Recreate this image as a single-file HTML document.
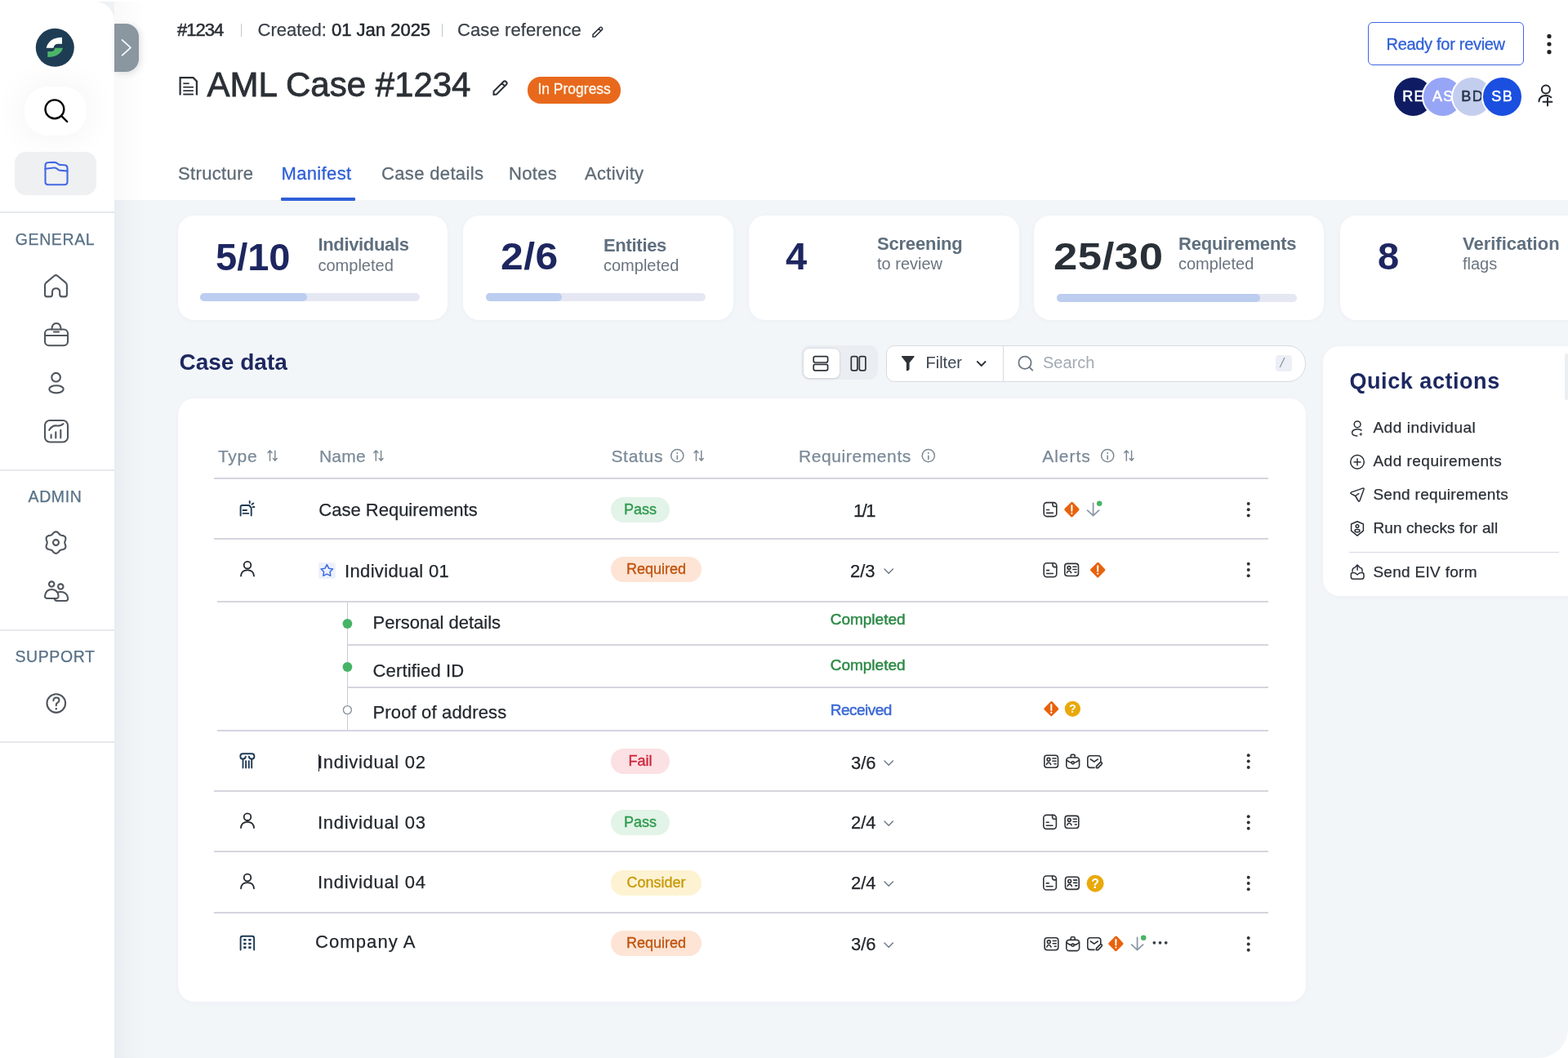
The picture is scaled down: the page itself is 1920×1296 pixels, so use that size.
<!DOCTYPE html>
<html><head><meta charset="utf-8"><title>AML Case #1234</title>
<style>
*{box-sizing:border-box;margin:0;padding:0}
html,body{width:1920px;height:1296px;overflow:hidden;background:#fff}
body{position:relative;font-family:"Liberation Sans",Arial,sans-serif;color:#2b3036}
.a{position:absolute}
.t{position:absolute;line-height:1;white-space:nowrap}
svg{display:block;overflow:visible}
#main{left:140px;top:2px;width:1780px;height:1294px;background:linear-gradient(90deg,#e8edf1 0,#eef2f5 18px,#f3f6f9 40px);border-radius:0 0 36px 0}
#hdr{left:140px;top:2px;width:1780px;height:243px;background:#fff}
#side{left:0;top:2px;width:140px;height:1294px;background:#fff;border-radius:0 24px 0 0}
.sep{position:absolute;left:0;width:140px;height:2px;background:#e6e8eb}
.sec{position:absolute;font-size:19.5px;letter-spacing:0.6px;color:#587086;-webkit-text-stroke:.25px #587086;line-height:1;left:0;width:137px;text-align:center}
.card{position:absolute;background:#fff;border-radius:20px;box-shadow:0 1px 6px rgba(30,50,90,.04)}
.big{font-weight:700;font-size:47px;color:#1e2660}
.lbl{font-weight:700;font-size:22px;color:#5f6f7e}
.sub{font-size:20px;color:#6a7480}
.bar{position:absolute;height:10px;border-radius:5px;background:#e5e7f3}
.bar i{position:absolute;left:0;top:0;height:10px;border-radius:5px;background:#bccdf0}
.tab{font-size:22px;color:#5f6b76;letter-spacing:.35px;-webkit-text-stroke:.3px currentColor}
.th{font-size:21px;color:#7a8a98}
.hl{position:absolute;height:2px;background:#d5d5df}
.nm{font-size:21px;color:#23282e}
.pill{position:absolute;height:31px;border-radius:16px;font-size:18px;line-height:31px;text-align:center;-webkit-text-stroke:.35px currentColor}
.req{font-size:22px;color:#1f2328}
.qa{font-size:19px;color:#2a2f36;-webkit-text-stroke:.25px currentColor;letter-spacing:.3px}
.av{-webkit-text-stroke:.5px currentColor;width:51px;height:51px;border-radius:50%;border:2px solid #fff;font-size:18px;letter-spacing:1.4px;text-align:center;line-height:47px;text-indent:1.4px}
</style></head><body>
<div class="a" id="main"></div>
<div class="a" id="hdr"></div>
<div class="a" style="left:140px;top:2px;width:40px;height:243px;background:linear-gradient(90deg,rgba(0,0,0,.022),rgba(0,0,0,0))"></div>
<div class="a" style="left:110px;top:2px;width:30px;height:40px;background:#eef2f5"></div>
<div class="a" id="side"></div>

<div class="a" style="left:30px;top:106px;width:76px;height:60px;border-radius:28px;background:#fff;box-shadow:0 0 40px 6px rgba(0,0,0,.045)"></div>
<div class="a" style="left:18px;top:186px;width:100px;height:53px;border-radius:14px;background:#eff0f2"></div>
<div class="sep" style="top:259px"></div>
<div class="sep" style="top:575px"></div>
<div class="sep" style="top:771px"></div>
<div class="sep" style="top:908px"></div>
<div class="sec" style="top:283.5px;left:-1px">GENERAL</div>
<div class="sec" style="top:599px;left:-1px">ADMIN</div>
<div class="sec" style="top:795px;left:-1px">SUPPORT</div>
<div class="a" style="left:140px;top:29px;width:30px;height:59px;background:#8a96a0;border-radius:0 16px 16px 0;box-shadow:2px 2px 8px rgba(0,0,0,.12)"></div>
<!--SIDEBAR-END-->

<div class="t" style="left:217px;top:26.4px;font-size:22px;color:#2b3036;letter-spacing:-1px;-webkit-text-stroke:.5px #2b3036">#1234</div>
<div class="a" style="left:294.5px;top:29px;width:1.6px;height:16px;background:#c3c7cf"></div>
<div class="t" style="left:315.5px;top:26.4px;font-size:22px;color:#3a4048;-webkit-text-stroke:.25px #3a4048">Created: <span style="color:#23282e;-webkit-text-stroke:.5px #23282e">01 Jan 2025</span></div>
<div class="a" style="left:540.5px;top:29px;width:1.6px;height:16px;background:#c3c7cf"></div>
<div class="t" style="left:560px;top:26.4px;font-size:22px;color:#3a4048;-webkit-text-stroke:.25px #3a4048;letter-spacing:.1px">Case reference</div>
<div class="t" style="left:253.5px;top:82.6px;font-size:42px;color:#2b3036;-webkit-text-stroke:.8px #2b3036">AML Case #1234</div>
<div class="a" style="left:646px;top:94.4px;width:114px;height:32.3px;border-radius:16px;background:#e8691c"></div>
<div class="t" style="left:658.4px;top:100.6px;font-size:17.5px;color:#fff8ee;-webkit-text-stroke:.3px #fff8ee">In Progress</div>
<div class="t tab" style="left:218px;top:201.9px">Structure</div>
<div class="t tab" style="left:344.5px;top:201.9px;color:#2f5fd8">Manifest</div>
<div class="t tab" style="left:467px;top:201.9px">Case details</div>
<div class="t tab" style="left:623px;top:201.9px">Notes</div>
<div class="t tab" style="left:716px;top:201.9px">Activity</div>
<div class="a" style="left:344px;top:242px;width:90.5px;height:3.6px;background:#2f5fd8;border-radius:1px"></div>
<div class="a" style="left:1675px;top:27px;width:191px;height:52.5px;border:1.6px solid #3e66e0;border-radius:6px"></div>
<div class="t" style="left:1697.5px;top:43.6px;font-size:20px;color:#2f5fd8;letter-spacing:-.3px;-webkit-text-stroke:.3px #2f5fd8">Ready for review</div>
<div class="a" style="left:1815px;top:94.5px;width:48px;height:48px;border-radius:50%;background:#1b4fe0;border:2px solid #fff"></div>
<div class="a av" style="left:1704.9px;top:93px;background:#0f1c63;color:#fff">RE</div>
<div class="a av" style="left:1741.2px;top:93px;background:#97a5f6;color:#fff">AS</div>
<div class="a av" style="left:1777.0px;top:93px;background:#c3cdee;color:#26364a">BD</div>
<div class="a av" style="left:1813.5px;top:93px;background:#1b4fe0;color:#fff">SB</div>
<!--HDR-END-->

<div class="card" style="left:218px;top:264px;width:330px;height:128px"></div>
<div class="card" style="left:567px;top:264px;width:331px;height:128px"></div>
<div class="card" style="left:917px;top:264px;width:331px;height:128px"></div>
<div class="card" style="left:1266px;top:264px;width:355px;height:128px"></div>
<div class="card" style="left:1641px;top:264px;width:320px;height:128px"></div>
<div class="t big" style="left:264px;top:291.2px">5/10</div>
<div class="t lbl" style="left:389.5px;top:289px;letter-spacing:-.35px">Individuals</div>
<div class="t sub" style="left:389.5px;top:314.6px">completed</div>
<div class="bar" style="left:245px;top:359px;width:269px"><i style="width:131px"></i></div>
<div class="t big" style="left:612.5px;top:290.2px;letter-spacing:.5px;transform:scaleX(1.06);transform-origin:0 0">2/6</div>
<div class="t lbl" style="left:739px;top:290.2px;letter-spacing:-.3px">Entities</div>
<div class="t sub" style="left:739px;top:315.1px">completed</div>
<div class="bar" style="left:595px;top:359px;width:269px"><i style="width:93px"></i></div>
<div class="t big" style="left:962px;top:290.2px">4</div>
<div class="t lbl" style="left:1074px;top:287.8px;letter-spacing:-.2px">Screening</div>
<div class="t sub" style="left:1074px;top:313.4px">to review</div>
<div class="t big" style="left:1290px;top:290.2px;color:#2a3038;letter-spacing:.5px;transform:scaleX(1.12);transform-origin:0 0">25/30</div>
<div class="t lbl" style="left:1443px;top:287.8px;letter-spacing:-.2px">Requirements</div>
<div class="t sub" style="left:1443px;top:313.4px">completed</div>
<div class="bar" style="left:1294px;top:359.5px;width:294px"><i style="width:249px"></i></div>
<div class="t big" style="left:1687px;top:290.2px">8</div>
<div class="t lbl" style="left:1791px;top:287.8px">Verification</div>
<div class="t sub" style="left:1791px;top:313.4px">flags</div>
<!--CARDS-END-->

<div class="t" style="left:219.5px;top:430px;font-size:28px;font-weight:700;color:#1d2860">Case data</div>
<div class="a" style="left:981px;top:423px;width:94px;height:42px;border-radius:10px;background:#eaedf2"></div>
<div class="a" style="left:982.5px;top:425.5px;width:46px;height:38.5px;border-radius:8px;background:#fff;border:1px solid #d8dce2;box-shadow:0 1px 2px rgba(0,0,0,.08)"></div>
<div class="a" style="left:1084.5px;top:423px;width:514px;height:44.5px;border-radius:10px 22px 22px 10px;background:#fff;border:1.3px solid #d6dae0"></div>
<div class="a" style="left:1227.5px;top:423px;width:1.3px;height:44.5px;background:#d6dae0"></div>
<div class="t" style="left:1133.5px;top:434.4px;font-size:20px;color:#3a4450">Filter</div>
<div class="t" style="left:1277px;top:434.4px;font-size:20px;color:#a2aab4">Search</div>
<div class="a" style="left:1561.5px;top:434.7px;width:20.7px;height:20px;border-radius:4px;background:#eceff5"></div>
<div class="t" style="left:1567.5px;top:436px;font-size:17px;color:#8b95a1;font-style:italic">/</div>
<div class="card" style="left:218px;top:488px;width:1381px;height:739px"></div>
<div class="card" style="left:1620px;top:424px;width:320px;height:306px"></div>
<div class="t" style="left:1652.5px;top:453.5px;font-size:27px;font-weight:700;color:#1d2860;letter-spacing:.55px">Quick actions</div>
<div class="t qa" style="left:1681.4px;top:514.4px;letter-spacing:.55px">Add individual</div>
<div class="t qa" style="left:1681.4px;top:554.7px;letter-spacing:.5px">Add requirements</div>
<div class="t qa" style="left:1681.4px;top:596.4px">Send requirements</div>
<div class="t qa" style="left:1681.4px;top:636.7px;letter-spacing:.1px">Run checks for all</div>
<div class="a" style="left:1652px;top:675.5px;width:257px;height:1.6px;background:#d6d8e6"></div>
<div class="t qa" style="left:1681.4px;top:690.9px">Send EIV form</div>
<div class="a" style="left:1915.5px;top:433px;width:5px;height:57px;border-radius:3px;background:#eceef1;filter:blur(.6px)"></div>
<!--SEC-END-->
<!--TBL-H-->
<div class="t" style="left:267px;top:548.4px;font-size:21px;color:#7a8a98;-webkit-text-stroke:.25px #7a8a98;letter-spacing:.7px">Type</div>
<div class="t" style="left:391px;top:548.4px;font-size:21px;color:#7a8a98;-webkit-text-stroke:.25px #7a8a98;letter-spacing:.2px">Name</div>
<div class="t" style="left:748.4px;top:548.4px;font-size:21px;color:#7a8a98;-webkit-text-stroke:.25px #7a8a98;letter-spacing:.7px">Status</div>
<div class="t" style="left:978px;top:548.4px;font-size:21px;color:#7a8a98;-webkit-text-stroke:.25px #7a8a98;letter-spacing:.6px">Requirements</div>
<div class="t" style="left:1276.2px;top:548.4px;font-size:21px;color:#7a8a98;-webkit-text-stroke:.25px #7a8a98;letter-spacing:1px">Alerts</div>
<div class="hl" style="left:262px;top:585px;width:1291px"></div>
<div class="hl" style="left:262px;top:659px;width:1291px"></div>
<div class="hl" style="left:266px;top:736px;width:1287px"></div>
<div class="hl" style="left:425.5px;top:789px;width:1127.5px"></div>
<div class="hl" style="left:425.5px;top:841px;width:1127.5px"></div>
<div class="hl" style="left:266px;top:894px;width:1287px"></div>
<div class="hl" style="left:262px;top:968px;width:1291px"></div>
<div class="hl" style="left:262px;top:1042px;width:1291px"></div>
<div class="hl" style="left:262px;top:1117px;width:1291px"></div>
<div class="a" style="left:424.6px;top:737px;width:1.6px;height:158px;background:#c9ccd4"></div>
<div class="t" style="left:390.3px;top:614.4px;font-size:22px;color:#23282e;-webkit-text-stroke:.25px #23282e;letter-spacing:0px">Case Requirements</div>
<div class="t" style="left:422px;top:689.2px;font-size:22px;color:#23282e;-webkit-text-stroke:.25px #23282e;letter-spacing:.35px">Individual 01</div>
<div class="t" style="left:389px;top:922.7px;font-size:22px;color:#23282e;-webkit-text-stroke:.25px #23282e;letter-spacing:.7px">Individual 02</div>
<div class="t" style="left:389px;top:996.9px;font-size:22px;color:#23282e;-webkit-text-stroke:.25px #23282e;letter-spacing:.7px">Individual 03</div>
<div class="t" style="left:389px;top:1069.8px;font-size:22px;color:#23282e;-webkit-text-stroke:.25px #23282e;letter-spacing:.7px">Individual 04</div>
<div class="t" style="left:386px;top:1143.4px;font-size:22px;color:#23282e;-webkit-text-stroke:.25px #23282e;letter-spacing:1.1px">Company A</div>
<div class="a" style="left:389.6px;top:924px;width:1.6px;height:21px;background:#23282e"></div>
<div class="t" style="left:456.5px;top:752.4px;font-size:22px;color:#23282e;-webkit-text-stroke:.25px #23282e;letter-spacing:0px">Personal details</div>
<div class="t" style="left:456.5px;top:811.0px;font-size:22px;color:#23282e;-webkit-text-stroke:.25px #23282e;letter-spacing:.15px">Certified ID</div>
<div class="t" style="left:456.5px;top:861.8px;font-size:22px;color:#23282e;-webkit-text-stroke:.25px #23282e;letter-spacing:.15px">Proof of address</div>
<div class="t" style="left:1016.7px;top:749.4px;font-size:19px;color:#2e8a47;-webkit-text-stroke:.25px #2e8a47;-webkit-text-stroke:.5px #2e8a47">Completed</div>
<div class="t" style="left:1016.7px;top:805.3px;font-size:19px;color:#2e8a47;-webkit-text-stroke:.25px #2e8a47;-webkit-text-stroke:.5px #2e8a47">Completed</div>
<div class="t" style="left:1016.7px;top:859.5px;font-size:19px;color:#3b68d6;-webkit-text-stroke:.25px #3b68d6;letter-spacing:-.5px;-webkit-text-stroke:.5px #3b68d6">Received</div>
<div class="pill" style="left:748px;top:608.6px;width:72px;background:#e2f3e7;color:#2f9a4e">Pass</div>
<div class="pill" style="left:748px;top:682.3px;width:111px;background:#fde4d5;color:#c0530d">Required</div>
<div class="pill" style="left:748px;top:917.2px;width:72px;background:#fbe0e4;color:#d0263a">Fail</div>
<div class="pill" style="left:748px;top:991.6px;width:72px;background:#e2f3e7;color:#2f9a4e">Pass</div>
<div class="pill" style="left:748px;top:1066.0px;width:111px;background:#fdf3d2;color:#c89a0c">Consider</div>
<div class="pill" style="left:748px;top:1140.4px;width:111px;background:#fde4d5;color:#c0530d">Required</div>
<div class="t" style="left:1045px;top:614.9px;font-size:22px;color:#1f2328;-webkit-text-stroke:.25px #1f2328;letter-spacing:-1.5px">1/1</div>
<div class="t" style="left:1041px;top:688.8px;font-size:22px;color:#1f2328;-webkit-text-stroke:.25px #1f2328;">2/3</div>
<div class="t" style="left:1042px;top:923.9px;font-size:22px;color:#1f2328;-webkit-text-stroke:.25px #1f2328;">3/6</div>
<div class="t" style="left:1042px;top:997.0px;font-size:22px;color:#1f2328;-webkit-text-stroke:.25px #1f2328;">2/4</div>
<div class="t" style="left:1042px;top:1071.4px;font-size:22px;color:#1f2328;-webkit-text-stroke:.25px #1f2328;">2/4</div>
<div class="t" style="left:1042px;top:1146.4px;font-size:22px;color:#1f2328;-webkit-text-stroke:.25px #1f2328;">3/6</div>
<div class="a" style="left:389.6px;top:688.6px;width:21.4px;height:20.4px;border-radius:3px;background:#edf1fa"></div>
<!--TBL-H-END-->







<svg class="a" style="left:0;top:0" width="1920" height="1296" viewBox="0 0 1920 1296" fill="none" stroke-linecap="round" stroke-linejoin="round">
<!-- logo -->
<circle cx="67.3" cy="58.3" r="23.5" fill="#1e3d55"/>
<path d="M56.7,58.7 C58.5,51 65,45.8 76,45.8 L76,53.7 L70.5,53.7 C67.5,53.7 66,56 65.5,58.7 Z" fill="#fff"/>
<path d="M77,58.7 C75,65.5 69,70 58.3,70 L58.3,63 L63,63 C65.5,63 66.8,61 67.3,58.7 Z" fill="#4cb56a"/>
<!-- search -->
<g stroke="#000" stroke-width="2.4"><circle cx="66.9" cy="133.8" r="11.4"/><path d="M75.6,142.3 L82.2,149"/></g>
<!-- folder -->
<g stroke="#4169e1" stroke-width="2.1">
<path d="M55.5,203 Q55.5,199 59.5,199 L66,198.7 Q68,198.7 70,200 L72,201.5 Q73,202 75,202 L79.5,202.3 Q82.5,202.5 82.5,206 L82.5,222.5 Q82.5,226.2 79,226.2 L59,226.2 Q55.5,226.2 55.5,222.5 Z"/>
<path d="M55.5,206.8 L66,205.5 Q68,205.4 70,206.8 L72,208.3 Q73,208.9 75,208.9 L82.5,209.5"/>
</g>
<!-- toggle chevron -->
<path d="M149.5,48.8 L160,58.3 L149.5,67.8" stroke="#fff" stroke-width="1.6"/>
<g stroke="#50565e" stroke-width="2.1">
<!-- home -->
<path d="M57.6,363.4 Q55,363.4 55,360.8 L55,349.6 Q55,347.6 56.6,346.1 L66.3,338 Q68.4,336.4 70.5,338 L80.3,346.1 Q81.9,347.6 81.9,349.6 L81.9,360.8 Q81.9,363.4 79.3,363.4 L76,363.4 Q73.2,363.4 73.2,360.5 L73.2,357.8 Q73.2,353.2 68.6,353.2 Q64,353.2 64,357.8 L64,360.5 Q64,363.4 61.2,363.4 Z"/>
<!-- briefcase -->
<rect x="55" y="403.5" width="28" height="19.8" rx="5"/>
<path d="M55,411 L83,411"/>
<path d="M63.5,403.5 Q63.5,396 69,396 Q74.5,396 74.5,403.5"/>
<path d="M66,406.5 L72,406.5"/>
<!-- person -->
<circle cx="68.6" cy="462.2" r="5.3"/>
<ellipse cx="69" cy="476.8" rx="8.7" ry="4.6"/>
<!-- chart -->
<rect x="55" y="515" width="28" height="26.5" rx="6"/>
<path d="M60.2,526.8 Q64,520.5 70,521.5 Q74.5,522 77.5,519.2"/>
<path d="M62.6,532.5 L62.6,536.5 M68.3,529.3 L68.3,536.5 M74.3,526.8 L74.3,536.5"/>
<!-- settings -->
<path d="M68.50,651.35 L69.36,651.47 L70.18,651.83 L70.93,652.36 L71.61,653.01 L72.20,653.69 L72.75,654.33 L73.30,654.87 L73.88,655.29 L74.53,655.58 L75.27,655.78 L76.10,655.94 L76.99,656.11 L77.88,656.37 L78.72,656.76 L79.44,657.29 L79.97,657.98 L80.30,658.78 L80.40,659.67 L80.32,660.59 L80.09,661.49 L79.80,662.35 L79.52,663.15 L79.32,663.89 L79.25,664.60 L79.32,665.31 L79.52,666.05 L79.80,666.85 L80.09,667.71 L80.32,668.61 L80.40,669.53 L80.30,670.42 L79.97,671.23 L79.44,671.91 L78.72,672.44 L77.88,672.83 L76.99,673.09 L76.10,673.26 L75.27,673.42 L74.53,673.62 L73.88,673.91 L73.30,674.33 L72.75,674.87 L72.20,675.51 L71.61,676.19 L70.93,676.84 L70.18,677.37 L69.36,677.73 L68.50,677.85 L67.64,677.73 L66.82,677.37 L66.07,676.84 L65.39,676.19 L64.80,675.51 L64.25,674.87 L63.70,674.33 L63.12,673.91 L62.47,673.62 L61.73,673.42 L60.90,673.26 L60.01,673.09 L59.12,672.83 L58.28,672.44 L57.56,671.91 L57.03,671.23 L56.70,670.42 L56.60,669.53 L56.68,668.61 L56.91,667.71 L57.20,666.85 L57.48,666.05 L57.68,665.31 L57.75,664.60 L57.68,663.89 L57.48,663.15 L57.20,662.35 L56.91,661.49 L56.68,660.59 L56.60,659.67 L56.70,658.78 L57.03,657.98 L57.56,657.29 L58.28,656.76 L59.12,656.37 L60.01,656.11 L60.90,655.94 L61.73,655.78 L62.47,655.58 L63.12,655.29 L63.70,654.87 L64.25,654.33 L64.80,653.69 L65.39,653.01 L66.07,652.36 L66.82,651.83 L67.64,651.47 Z"/>
<circle cx="68.5" cy="664.6" r="3.5"/>
<!-- users -->
<circle cx="63.2" cy="715.6" r="3.2"/>
<circle cx="74.3" cy="718.6" r="3.2"/>
<path d="M58,733 Q54.6,733 55.1,729.6 Q56.4,722 63.2,722 Q70.2,722 71.5,729.4 Q71.9,733 68.6,733 Z"/>
<path d="M66.6,733.4 Q67.4,736 70.2,736 L80.3,736 Q83.6,736 83.1,732.7 Q82,725 74.3,725 Q72.2,725 70.6,725.8"/>
<!-- help -->
<circle cx="68.8" cy="861.6" r="11.3"/>
<path d="M65.4,858.3 Q65.6,854.5 69,854.5 Q72.5,854.5 72.5,857.8 Q72.5,860 70.2,861 Q68.8,861.6 68.8,863.5 L68.8,864.2"/>
</g>
<circle cx="68.8" cy="868.2" r="1.2" fill="#4d535a"/>

<!-- header icons -->
<g stroke="#2b3036" stroke-width="1.8">
<path d="M726,45.2 L726,42.4 L734.6,33.8 Q735.7,32.7 736.8,33.8 L737.2,34.2 Q738.3,35.3 737.2,36.4 L728.6,45 Z M733.2,35.3 L735.7,37.8" stroke-width="1.5"/>
<path d="M604.5,116 L604.5,112 L616.5,100 Q618,98.5 619.5,100 L620,100.5 Q621.5,102 620,103.5 L608,115.5 Z M614.5,102 L618,105.5" stroke-width="2"/>
</g>
<g fill="#2b3036">
<path d="M219.5,94 L237,94 L242,99 L242,116.6 L239.8,116.6 L239.8,100 L236,96.2 L221.7,96.2 L221.7,116.6 L219.5,116.6 Z"/>
<rect x="224.3" y="101.4" width="7.4" height="1.7"/>
<rect x="224.3" y="105.9" width="12.6" height="1.7"/>
<rect x="224.3" y="110.3" width="12.6" height="1.7"/>
<rect x="224.3" y="114.6" width="12.6" height="1.9"/>
</g>
<!-- kebab top right -->
<g fill="#222"><circle cx="1897" cy="44.4" r="2.6"/><circle cx="1897" cy="54" r="2.6"/><circle cx="1897" cy="63.7" r="2.6"/></g>
<!-- add person -->
<g stroke="#23282e" stroke-width="2"><circle cx="1892.9" cy="109.6" r="5"/><path d="M1884.4,124.2 Q1885.2,117.3 1892.8,117.1 Q1896.6,117.1 1899.4,119.2"/><path d="M1895,119.8 L1895,129.6 M1889.6,124.7 L1900.4,124.7"/></g>
<!-- toolbar icons -->
<g stroke="#2f3338" stroke-width="1.7">
<rect x="996.2" y="436.6" width="17.4" height="7.4" rx="2"/><rect x="996.2" y="446.4" width="17.4" height="7.4" rx="2"/>
<rect x="1042.3" y="436.6" width="7.6" height="17.2" rx="2"/><rect x="1052.3" y="436.6" width="7.6" height="17.2" rx="2"/>
<path d="M1196.8,443 L1201.7,448 L1206.6,443" stroke-width="1.8"/>
</g>
<path d="M1104.6,436 L1119,436 Q1120.2,436 1119.4,437.2 L1113.6,444.6 L1113.6,452 Q1113.6,453.3 1112.3,453.7 L1110.6,454.2 Q1109.9,454.4 1109.9,453.6 L1109.9,444.6 L1104.2,437.2 Q1103.4,436 1104.6,436 Z" fill="#2f3338"/>
<g stroke="#6d7885" stroke-width="1.8"><circle cx="1255" cy="444.3" r="7.6"/><path d="M1260.6,449.9 L1264.3,453.6"/></g>
<!-- quick action icons -->
<g stroke="#2a2f36" stroke-width="1.5">
<circle cx="1662.1" cy="519.8" r="3.9"/>
<path d="M1667,527 Q1664.5,525.6 1661.5,525.8 Q1655.6,526.3 1655.6,530.2 Q1655.8,533.6 1661.8,533.9"/>
<circle cx="1662" cy="565.9" r="8.3"/><path d="M1658,565.9 L1666,565.9 M1662,561.9 L1662,569.9"/>
<path d="M1654.6,604.8 Q1653,603.7 1654.9,602.9 L1668.7,598.1 Q1670.6,597.6 1670,599.4 L1665,613.3 Q1664.3,615 1663.2,613.5 L1659.6,607.5 Z M1659.6,607.5 L1663.8,604.7"/>
<path d="M1662,638.8 L1669.4,642 L1669.4,650.2 L1662,656.2 L1654.6,650.2 L1654.6,642 Z"/>
<circle cx="1662" cy="644.6" r="1.8"/><ellipse cx="1662" cy="650.2" rx="3" ry="1.6"/>
<path d="M1657,701.5 L1656.6,701.5 Q1654.3,701.5 1654.3,704 L1654.3,706.5 Q1654.3,709.3 1657,709.3 L1667.2,709.3 Q1670,709.3 1670,706.5 L1670,704 Q1670,701.5 1667.6,701.5 L1667,701.5 Q1664.5,701.5 1663.5,702.8 L1662.1,704 L1660.6,702.8 Q1659.6,701.5 1657,701.5 Z"/>
<path d="M1656,700 Q1655.8,695.6 1659.2,695.3 M1668.2,700 Q1668.4,695.6 1665,695.3 M1662.1,698.2 L1662.1,692.2 M1659.9,694.3 L1662.1,692 L1664.3,694.3"/>
</g>
<path d="M1666.3,529.4 L1667,531.2 L1668.8,531.9 L1667,532.6 L1666.3,534.4 L1665.6,532.6 L1663.8,531.9 L1665.6,531.2 Z" fill="#2a2f36"/>
<!--TBL-S-->
<g stroke="#7d8992" stroke-width="1.5"><path d="M330.5,564.2 L330.5,552 M328.1,554.6 L330.5,552 L332.9,554.6"/><path d="M336.8,552.2 L336.8,564.2 M334.4,561.6 L336.8,564.2 L339.2,561.6"/></g>
<g stroke="#7d8992" stroke-width="1.5"><path d="M460.3,564.2 L460.3,552 M457.90000000000003,554.6 L460.3,552 L462.7,554.6"/><path d="M466.6,552.2 L466.6,564.2 M464.2,561.6 L466.6,564.2 L469.0,561.6"/></g>
<g stroke="#7d8992" stroke-width="1.5"><path d="M852.5,564.2 L852.5,552 M850.1,554.6 L852.5,552 L854.9,554.6"/><path d="M858.8,552.2 L858.8,564.2 M856.4,561.6 L858.8,564.2 L861.2,561.6"/></g>
<g stroke="#7d8992" stroke-width="1.5"><path d="M1379.3,564.2 L1379.3,552 M1376.8999999999999,554.6 L1379.3,552 L1381.7,554.6"/><path d="M1385.6,552.2 L1385.6,564.2 M1383.2,561.6 L1385.6,564.2 L1388.0,561.6"/></g>
<circle cx="829.3" cy="558.2" r="7.6" stroke="#7d8992" stroke-width="1.5"/><path d="M829.3,558.2 L829.3,562.4000000000001" stroke="#7d8992" stroke-width="1.6"/><circle cx="829.3" cy="554.9000000000001" r="1" fill="#7d8992"/>
<circle cx="1136.8" cy="558.2" r="7.6" stroke="#7d8992" stroke-width="1.5"/><path d="M1136.8,558.2 L1136.8,562.4000000000001" stroke="#7d8992" stroke-width="1.6"/><circle cx="1136.8" cy="554.9000000000001" r="1" fill="#7d8992"/>
<circle cx="1356.2" cy="558.2" r="7.6" stroke="#7d8992" stroke-width="1.5"/><path d="M1356.2,558.2 L1356.2,562.4000000000001" stroke="#7d8992" stroke-width="1.6"/><circle cx="1356.2" cy="554.9000000000001" r="1" fill="#7d8992"/>
<circle cx="425.4" cy="764" r="5.9" fill="#46b466"/><circle cx="425.4" cy="817" r="5.9" fill="#46b466"/><circle cx="425.4" cy="869.6" r="5" fill="#fff" stroke="#8a949e" stroke-width="1.4"/>
<path d="M1083,697 L1088.2,702.2 L1093.4,697" stroke="#6b7785" stroke-width="1.4"/>
<path d="M1083,932 L1088.2,937.2 L1093.4,932" stroke="#6b7785" stroke-width="1.4"/>
<path d="M1083,1006 L1088.2,1011.2 L1093.4,1006" stroke="#6b7785" stroke-width="1.4"/>
<path d="M1083,1080 L1088.2,1085.2 L1093.4,1080" stroke="#6b7785" stroke-width="1.4"/>
<path d="M1083,1155 L1088.2,1160.2 L1093.4,1155" stroke="#6b7785" stroke-width="1.4"/>
<g fill="#2f3338"><circle cx="1528.7" cy="616.9000000000001" r="2"/><circle cx="1528.7" cy="624.2" r="2"/><circle cx="1528.7" cy="631.5" r="2"/></g>
<g fill="#2f3338"><circle cx="1528.7" cy="690.7" r="2"/><circle cx="1528.7" cy="698" r="2"/><circle cx="1528.7" cy="705.3" r="2"/></g>
<g fill="#2f3338"><circle cx="1528.7" cy="925.3000000000001" r="2"/><circle cx="1528.7" cy="932.6" r="2"/><circle cx="1528.7" cy="939.9" r="2"/></g>
<g fill="#2f3338"><circle cx="1528.7" cy="1000.2" r="2"/><circle cx="1528.7" cy="1007.5" r="2"/><circle cx="1528.7" cy="1014.8" r="2"/></g>
<g fill="#2f3338"><circle cx="1528.7" cy="1074.7" r="2"/><circle cx="1528.7" cy="1082" r="2"/><circle cx="1528.7" cy="1089.3" r="2"/></g>
<g fill="#2f3338"><circle cx="1528.7" cy="1149.1000000000001" r="2"/><circle cx="1528.7" cy="1156.4" r="2"/><circle cx="1528.7" cy="1163.7" r="2"/></g>
<g stroke="#1e3a55" stroke-width="1.9"><path d="M294.6,631.5 L294.6,621 Q294.6,619 296.6,619 L305,619 L307.7,622 L307.7,631.5"/><path d="M297.6,625 L302,625 M297.6,628.9 L304.3,628.9"/><path d="M305.7,614 L305.7,616.3 M308.5,617.8 L310.3,616.4 M309.8,621 L311.4,621"/></g>
<g stroke="#23282e" stroke-width="1.8"><circle cx="303" cy="692.2" r="4.3"/><path d="M295,705.6 Q295.6,698.4 303,698.4 Q310.4,698.4 311,705.6"/></g>
<g stroke="#23282e" stroke-width="1.8"><circle cx="303" cy="1000.7" r="4.3"/><path d="M295,1014.1 Q295.6,1006.9 303,1006.9 Q310.4,1006.9 311,1014.1"/></g>
<g stroke="#23282e" stroke-width="1.8"><circle cx="303" cy="1075.0" r="4.3"/><path d="M295,1088.3999999999999 Q295.6,1081.2 303,1081.2 Q310.4,1081.2 311,1088.3999999999999"/></g>
<g stroke="#1e3a55" stroke-width="1.9"><path d="M297.5,940.5 L297.5,929.8 Q294.3,929.6 294.3,926.4 Q294.3,923.2 297.5,923.2 L308.2,923.2 Q311.4,923.2 311.4,926.4 Q311.4,929.6 308.2,929.8 L308.2,940.5"/><path d="M297.7,929.8 Q300.8,929.6 300.8,926.6 M308,929.8 Q304.9,929.6 304.9,926.6"/><path d="M301.1,932.2 L301.1,940.5 M304.8,932.2 L304.8,940.5"/></g>
<g stroke="#1e3a55" stroke-width="1.9"><path d="M294.6,1163.6 L294.6,1149.2 Q294.6,1146.7 297.1,1146.7 L308.6,1146.7 Q311.1,1146.7 311.1,1149.2 L311.1,1163.6"/></g><g fill="#1e3a55"><rect x="298.1" y="1150.0" width="3.4" height="2.6" rx=".6"/><rect x="298.1" y="1154.7" width="3.4" height="2.6" rx=".6"/><rect x="298.1" y="1159.3" width="3.4" height="2.6" rx=".6"/><rect x="304.2" y="1150.0" width="3.4" height="2.6" rx=".6"/><rect x="304.2" y="1154.7" width="3.4" height="2.6" rx=".6"/><rect x="304.2" y="1159.3" width="3.4" height="2.6" rx=".6"/></g>
<path d="M400.30,691.70 L402.59,696.14 L407.53,696.95 L404.01,700.51 L404.77,705.45 L400.30,703.20 L395.83,705.45 L396.59,700.51 L393.07,696.95 L398.01,696.14 Z" stroke="#3e6ae0" stroke-width="1.5"/>
<g stroke="#2f3338" stroke-width="1.6"><rect x="1278.2" y="615.5999999999999" width="15.6" height="17" rx="3.6"/><path d="M1289.0,615.8 L1289.0,618.1999999999999 Q1289.0,620.5 1291.4,620.5 L1293.6000000000001,620.5"/><path d="M1281.7,624.5 L1284.6000000000001,624.5 M1281.7,628.4 L1289.4,628.4"/></g>
<path d="M1312.4,614.7 Q1313.2,614.7 1314.0,615.5 L1321.1000000000001,623.1 Q1322.2,624.2 1321.1000000000001,625.3000000000001 L1313.5,632.9000000000001 Q1312.4,634.0 1311.3000000000002,632.9000000000001 L1303.7,625.3000000000001 Q1302.6000000000001,624.2 1303.7,623.1 L1311.3000000000002,615.5 Q1312.4,614.4000000000001 1312.4,614.7 Z" fill="#e8620c"/><path d="M1312.4,619.2 L1312.4,625.8000000000001" stroke="#fff" stroke-width="2"/><circle cx="1312.4" cy="628.8000000000001" r="1.1" fill="#fff"/>
<path d="M1338.6,616.3 L1338.6,631.6999999999999 M1331.6,625.0999999999999 L1338.6,631.6999999999999 L1345.6,625.0999999999999" stroke="#8c99a6" stroke-width="1.8"/><circle cx="1346.1999999999998" cy="616.8" r="3.3" fill="#48b567"/>
<g stroke="#2f3338" stroke-width="1.6"><rect x="1278.2" y="689.6999999999999" width="15.6" height="17" rx="3.6"/><path d="M1289.0,689.9 L1289.0,692.3 Q1289.0,694.6 1291.4,694.6 L1293.6000000000001,694.6"/><path d="M1281.7,698.6 L1284.6000000000001,698.6 M1281.7,702.5 L1289.4,702.5"/></g>
<g stroke="#2f3338" stroke-width="1.6"><rect x="1303.8" y="690.4" width="16.7" height="15.1" rx="3.2"/><circle cx="1309" cy="695.5" r="1.9"/><path d="M1306.4,701.6 Q1307.2,699.2 1309,699.2 Q1310.8,699.2 1311.7,701.6"/><path d="M1313.9,694.2 L1318,694.2 M1313.9,697.5 L1318,697.5 M1316,701.0 L1318,701.0"/></g>
<path d="M1344.2,688.7 Q1345.0,688.7 1345.8,689.5 L1352.9,697.1 Q1354.0,698.2 1352.9,699.3000000000001 L1345.3,706.9000000000001 Q1344.2,708.0 1343.1000000000001,706.9000000000001 L1335.5,699.3000000000001 Q1334.4,698.2 1335.5,697.1 L1343.1000000000001,689.5 Q1344.2,688.4000000000001 1344.2,688.7 Z" fill="#e8620c"/><path d="M1344.2,693.2 L1344.2,699.8000000000001" stroke="#fff" stroke-width="2"/><circle cx="1344.2" cy="702.8000000000001" r="1.1" fill="#fff"/>
<path d="M1287.3,859.0 Q1288.1,859.0 1288.8999999999999,859.8 L1295.8,867.1999999999999 Q1296.8999999999999,868.3 1295.8,869.4 L1288.3999999999999,876.8 Q1287.3,877.8999999999999 1286.2,876.8 L1278.8,869.4 Q1277.7,868.3 1278.8,867.1999999999999 L1286.2,859.8 Q1287.3,858.7 1287.3,859.0 Z" fill="#e8620c"/><path d="M1287.3,863.3 L1287.3,869.9" stroke="#fff" stroke-width="2"/><circle cx="1287.3" cy="872.9" r="1.1" fill="#fff"/>
<circle cx="1313.4" cy="868.3" r="9.6" fill="#e9a90a"/><text x="1313.4" y="873.3" text-anchor="middle" font-family="Liberation Sans, Arial, sans-serif" font-weight="700" font-size="14.4" fill="#fff">?</text>
<g stroke="#2f3338" stroke-width="1.6"><rect x="1278.8" y="925.1999999999999" width="16.7" height="15.1" rx="3.2"/><circle cx="1284" cy="930.3" r="1.9"/><path d="M1281.4,936.4 Q1282.2,934.0 1284,934.0 Q1285.8,934.0 1286.7,936.4"/><path d="M1288.9,929.0 L1293,929.0 M1288.9,932.3 L1293,932.3 M1291,935.8 L1293,935.8"/></g>
<g stroke="#2f3338" stroke-width="1.6"><rect x="1305.8" y="928.0" width="15.8" height="13.2" rx="3.4"/><path d="M1311.2,927.8000000000001 L1311.2,925.8000000000001 Q1311.2,924.4 1312.6,924.4 L1314.8,924.4 Q1316.2,924.4 1316.2,925.8000000000001 L1316.2,927.8000000000001"/><path d="M1306,931.2 Q1309.5,934.2 1312.2,934.2 M1315.2,934.2 Q1317.9,934.2 1321.4,931.2"/><circle cx="1313.7" cy="934.3000000000001" r="1.6"/></g>
<g stroke="#2f3338" stroke-width="1.6"><path d="M1340,940.4 L1335,940.4 Q1331.8,940.4 1331.8,937.2 L1331.8,929 Q1331.8,925.8 1335,925.8 L1344.6,925.8 Q1347.8,925.8 1347.8,929 L1347.8,932.5"/><path d="M1335.3,930 L1339.8,933.2 L1344.3,930"/><path d="M1342.3,940.6 L1342.5,938.6 L1347,934.1 Q1348,933.1 1349,934.1 Q1350,935.1 1349,936.1 L1344.5,940.6 Z"/></g>
<g stroke="#2f3338" stroke-width="1.6"><rect x="1277.8" y="998.4" width="15.6" height="17" rx="3.6"/><path d="M1288.6,998.6 L1288.6,1001.0 Q1288.6,1003.3000000000001 1291,1003.3000000000001 L1293.2,1003.3000000000001"/><path d="M1281.3,1007.3000000000001 L1284.2,1007.3000000000001 M1281.3,1011.2 L1289,1011.2"/></g>
<g stroke="#2f3338" stroke-width="1.6"><rect x="1304.1" y="999.4" width="16.7" height="15.1" rx="3.2"/><circle cx="1309.3" cy="1004.5" r="1.9"/><path d="M1306.7,1010.6 Q1307.5,1008.2 1309.3,1008.2 Q1311.1,1008.2 1312.0,1010.6"/><path d="M1314.2,1003.2 L1318.3,1003.2 M1314.2,1006.5 L1318.3,1006.5 M1316.3,1010.0 L1318.3,1010.0"/></g>
<g stroke="#2f3338" stroke-width="1.6"><rect x="1277.8" y="1073.0" width="15.6" height="17" rx="3.6"/><path d="M1288.6,1073.2 L1288.6,1075.6000000000001 Q1288.6,1077.9 1291,1077.9 L1293.2,1077.9"/><path d="M1281.3,1081.9 L1284.2,1081.9 M1281.3,1085.8 L1289,1085.8"/></g>
<g stroke="#2f3338" stroke-width="1.6"><rect x="1304.5" y="1074.3" width="16.7" height="15.1" rx="3.2"/><circle cx="1309.7" cy="1079.4" r="1.9"/><path d="M1307.1000000000001,1085.5 Q1307.9,1083.1 1309.7,1083.1 Q1311.5,1083.1 1312.4,1085.5"/><path d="M1314.6000000000001,1078.1 L1318.7,1078.1 M1314.6000000000001,1081.4 L1318.7,1081.4 M1316.7,1084.9 L1318.7,1084.9"/></g>
<circle cx="1341.1" cy="1082.2" r="10.5" fill="#e9a90a"/><text x="1341.1" y="1087.7" text-anchor="middle" font-family="Liberation Sans, Arial, sans-serif" font-weight="700" font-size="15.8" fill="#fff">?</text>
<g stroke="#2f3338" stroke-width="1.6"><rect x="1279.1" y="1148.7" width="16.7" height="15.1" rx="3.2"/><circle cx="1284.3" cy="1153.8000000000002" r="1.9"/><path d="M1281.7,1159.9 Q1282.5,1157.5 1284.3,1157.5 Q1286.1,1157.5 1287.0,1159.9"/><path d="M1289.2,1152.5 L1293.3,1152.5 M1289.2,1155.8000000000002 L1293.3,1155.8000000000002 M1291.3,1159.3000000000002 L1293.3,1159.3000000000002"/></g>
<g stroke="#2f3338" stroke-width="1.6"><rect x="1305.8" y="1151.4" width="15.8" height="13.2" rx="3.4"/><path d="M1311.2,1151.2 L1311.2,1149.2 Q1311.2,1147.8 1312.6,1147.8 L1314.8,1147.8 Q1316.2,1147.8 1316.2,1149.2 L1316.2,1151.2"/><path d="M1306,1154.6 Q1309.5,1157.6 1312.2,1157.6 M1315.2,1157.6 Q1317.9,1157.6 1321.4,1154.6"/><circle cx="1313.7" cy="1157.7" r="1.6"/></g>
<g stroke="#2f3338" stroke-width="1.6"><path d="M1340,1163.4 L1335,1163.4 Q1331.8,1163.4 1331.8,1160.2 L1331.8,1152 Q1331.8,1148.8 1335,1148.8 L1344.6,1148.8 Q1347.8,1148.8 1347.8,1152 L1347.8,1155.5"/><path d="M1335.3,1153 L1339.8,1156.2 L1344.3,1153"/><path d="M1342.3,1163.6 L1342.5,1161.6 L1347,1157.1 Q1348,1156.1 1349,1157.1 Q1350,1158.1 1349,1159.1 L1344.5,1163.6 Z"/></g>
<path d="M1366.4,1146.5 Q1367.2,1146.5 1368.0,1147.3 L1375.1000000000001,1154.9 Q1376.2,1156 1375.1000000000001,1157.1 L1367.5,1164.7 Q1366.4,1165.8 1365.3000000000002,1164.7 L1357.7,1157.1 Q1356.6000000000001,1156 1357.7,1154.9 L1365.3000000000002,1147.3 Q1366.4,1146.2 1366.4,1146.5 Z" fill="#e8620c"/><path d="M1366.4,1151 L1366.4,1157.6" stroke="#fff" stroke-width="2"/><circle cx="1366.4" cy="1160.6" r="1.1" fill="#fff"/>
<path d="M1392.6,1148.3 L1392.6,1163.7 M1385.6,1157.1 L1392.6,1163.7 L1399.6,1157.1" stroke="#8c99a6" stroke-width="1.8"/><circle cx="1400.1999999999998" cy="1148.8" r="3.3" fill="#48b567"/>
<g fill="#3a3f45"><circle cx="1413.4" cy="1154.8" r="1.9"/><circle cx="1420.5" cy="1154.8" r="1.9"/><circle cx="1427.7" cy="1154.8" r="1.9"/></g>
<!--TBL-S-END--><!--ICONS-->
</svg>
</body></html>
